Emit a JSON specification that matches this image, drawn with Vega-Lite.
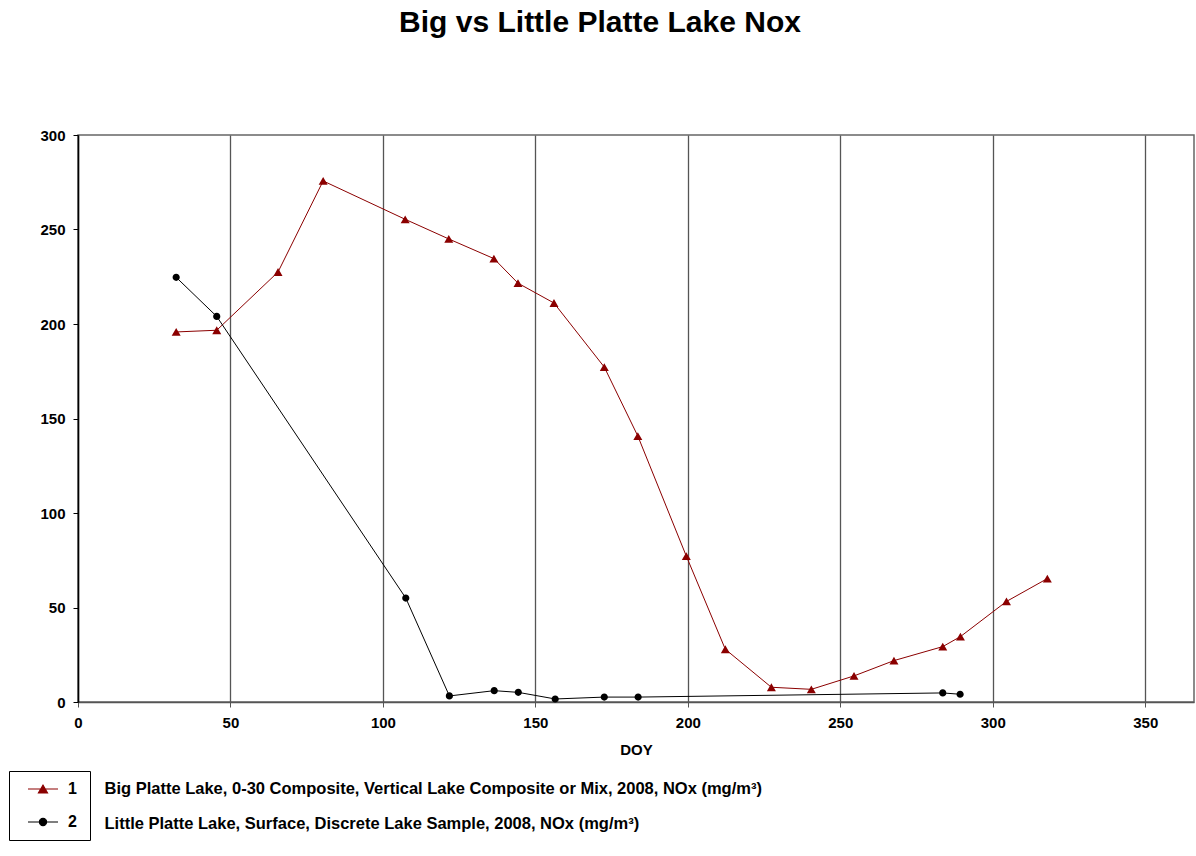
{
  "$schema": "https://vega.github.io/schema/vega-lite/v6.json",
  "width": 1116,
  "height": 567,
  "autosize": {"type": "none"},
  "padding": {"left": 78, "top": 135, "right": 2, "bottom": 154},
  "background": "white",
  "config": {
    "font": "Liberation Sans",
    "view": {"stroke": "#666666", "strokeWidth": 1.5}
  },
  "title": {
    "text": "Big vs Little Platte Lake Nox",
    "font": "Liberation Sans",
    "fontSize": 30,
    "fontWeight": "bold",
    "color": "black",
    "anchor": "middle",
    "dx": -36,
    "offset": 90
  },
  "data": {
    "values": [
      {"series": "1", "lake": "Big Platte Lake, 0-30 Composite, Vertical Lake Composite or Mix, 2008, NOx (mg/m³)", "doy": 32.2, "nox": 195.8},
      {"series": "1", "lake": "Big Platte Lake, 0-30 Composite, Vertical Lake Composite or Mix, 2008, NOx (mg/m³)", "doy": 45.5, "nox": 196.7},
      {"series": "1", "lake": "Big Platte Lake, 0-30 Composite, Vertical Lake Composite or Mix, 2008, NOx (mg/m³)", "doy": 65.6, "nox": 227.5},
      {"series": "1", "lake": "Big Platte Lake, 0-30 Composite, Vertical Lake Composite or Mix, 2008, NOx (mg/m³)", "doy": 80.4, "nox": 275.7},
      {"series": "1", "lake": "Big Platte Lake, 0-30 Composite, Vertical Lake Composite or Mix, 2008, NOx (mg/m³)", "doy": 107.3, "nox": 255.4},
      {"series": "1", "lake": "Big Platte Lake, 0-30 Composite, Vertical Lake Composite or Mix, 2008, NOx (mg/m³)", "doy": 121.6, "nox": 245.0},
      {"series": "1", "lake": "Big Platte Lake, 0-30 Composite, Vertical Lake Composite or Mix, 2008, NOx (mg/m³)", "doy": 136.4, "nox": 234.6},
      {"series": "1", "lake": "Big Platte Lake, 0-30 Composite, Vertical Lake Composite or Mix, 2008, NOx (mg/m³)", "doy": 144.3, "nox": 221.6},
      {"series": "1", "lake": "Big Platte Lake, 0-30 Composite, Vertical Lake Composite or Mix, 2008, NOx (mg/m³)", "doy": 156.1, "nox": 211.1},
      {"series": "1", "lake": "Big Platte Lake, 0-30 Composite, Vertical Lake Composite or Mix, 2008, NOx (mg/m³)", "doy": 172.6, "nox": 177.2},
      {"series": "1", "lake": "Big Platte Lake, 0-30 Composite, Vertical Lake Composite or Mix, 2008, NOx (mg/m³)", "doy": 183.6, "nox": 140.7},
      {"series": "1", "lake": "Big Platte Lake, 0-30 Composite, Vertical Lake Composite or Mix, 2008, NOx (mg/m³)", "doy": 199.5, "nox": 77.2},
      {"series": "1", "lake": "Big Platte Lake, 0-30 Composite, Vertical Lake Composite or Mix, 2008, NOx (mg/m³)", "doy": 212.3, "nox": 27.9},
      {"series": "1", "lake": "Big Platte Lake, 0-30 Composite, Vertical Lake Composite or Mix, 2008, NOx (mg/m³)", "doy": 227.4, "nox": 7.8},
      {"series": "1", "lake": "Big Platte Lake, 0-30 Composite, Vertical Lake Composite or Mix, 2008, NOx (mg/m³)", "doy": 240.5, "nox": 6.7},
      {"series": "1", "lake": "Big Platte Lake, 0-30 Composite, Vertical Lake Composite or Mix, 2008, NOx (mg/m³)", "doy": 254.5, "nox": 13.8},
      {"series": "1", "lake": "Big Platte Lake, 0-30 Composite, Vertical Lake Composite or Mix, 2008, NOx (mg/m³)", "doy": 267.6, "nox": 21.9},
      {"series": "1", "lake": "Big Platte Lake, 0-30 Composite, Vertical Lake Composite or Mix, 2008, NOx (mg/m³)", "doy": 283.6, "nox": 29.3},
      {"series": "1", "lake": "Big Platte Lake, 0-30 Composite, Vertical Lake Composite or Mix, 2008, NOx (mg/m³)", "doy": 289.4, "nox": 34.6},
      {"series": "1", "lake": "Big Platte Lake, 0-30 Composite, Vertical Lake Composite or Mix, 2008, NOx (mg/m³)", "doy": 304.5, "nox": 53.2},
      {"series": "1", "lake": "Big Platte Lake, 0-30 Composite, Vertical Lake Composite or Mix, 2008, NOx (mg/m³)", "doy": 317.9, "nox": 65.3},
      {"series": "2", "lake": "Little Platte Lake, Surface, Discrete Lake Sample, 2008, NOx (mg/m³)", "doy": 32.2, "nox": 224.7},
      {"series": "2", "lake": "Little Platte Lake, Surface, Discrete Lake Sample, 2008, NOx (mg/m³)", "doy": 45.5, "nox": 204.0},
      {"series": "2", "lake": "Little Platte Lake, Surface, Discrete Lake Sample, 2008, NOx (mg/m³)", "doy": 107.5, "nox": 55.0},
      {"series": "2", "lake": "Little Platte Lake, Surface, Discrete Lake Sample, 2008, NOx (mg/m³)", "doy": 121.8, "nox": 3.2},
      {"series": "2", "lake": "Little Platte Lake, Surface, Discrete Lake Sample, 2008, NOx (mg/m³)", "doy": 136.5, "nox": 6.0},
      {"series": "2", "lake": "Little Platte Lake, Surface, Discrete Lake Sample, 2008, NOx (mg/m³)", "doy": 144.4, "nox": 5.1},
      {"series": "2", "lake": "Little Platte Lake, Surface, Discrete Lake Sample, 2008, NOx (mg/m³)", "doy": 156.5, "nox": 1.6},
      {"series": "2", "lake": "Little Platte Lake, Surface, Discrete Lake Sample, 2008, NOx (mg/m³)", "doy": 172.6, "nox": 2.6},
      {"series": "2", "lake": "Little Platte Lake, Surface, Discrete Lake Sample, 2008, NOx (mg/m³)", "doy": 183.7, "nox": 2.6},
      {"series": "2", "lake": "Little Platte Lake, Surface, Discrete Lake Sample, 2008, NOx (mg/m³)", "doy": 283.6, "nox": 4.8},
      {"series": "2", "lake": "Little Platte Lake, Surface, Discrete Lake Sample, 2008, NOx (mg/m³)", "doy": 289.3, "nox": 4.1}
    ]
  },
  "encoding": {
    "x": {
      "field": "doy",
      "type": "quantitative",
      "scale": {"domain": [0, 366], "nice": false, "zero": false},
      "axis": {
        "values": [0, 50, 100, 150, 200, 250, 300, 350],
        "title": "DOY",
        "titleFont": "Liberation Sans",
        "titleFontSize": 15,
        "titleFontWeight": "bold",
        "titleColor": "black",
        "titlePadding": 12,
        "grid": true,
        "gridColor": "#555555",
        "gridWidth": 1.3,
        "domainColor": "#555555",
        "domainWidth": 1.5,
        "tickColor": "#555555",
        "tickSize": 5,
        "labelFont": "Liberation Sans",
        "labelFontSize": 15,
        "labelFontWeight": "bold",
        "labelColor": "black",
        "labelPadding": 8,
        "labelFlush": false
      }
    },
    "y": {
      "field": "nox",
      "type": "quantitative",
      "scale": {"domain": [0, 300], "nice": false},
      "axis": {
        "values": [0, 50, 100, 150, 200, 250, 300],
        "title": null,
        "grid": false,
        "domainColor": "black",
        "domainWidth": 1.5,
        "tickColor": "black",
        "tickSize": 5,
        "labelFont": "Liberation Sans",
        "labelFontSize": 15,
        "labelFontWeight": "bold",
        "labelColor": "black",
        "labelPadding": 8
      }
    }
  },
  "layer": [
    {
      "mark": {"type": "line", "strokeWidth": 1},
      "encoding": {
        "color": {
          "field": "series",
          "type": "nominal",
          "scale": {"domain": ["1", "2"], "range": ["#8B0000", "#000000"]},
          "legend": {
            "orient": "none",
            "legendX": -69,
            "legendY": 636,
            "title": "MMMMMMMMMMMM",
            "titleOrient": "bottom",
            "titleAnchor": "start",
            "titleFont": "Liberation Sans",
            "titleFontWeight": "normal",
            "titleFontSize": 7.7,
            "titleColor": "rgba(0,0,0,0)",
            "titlePadding": 0,
            "strokeColor": "black",
            "padding": 2,
            "symbolSize": 900,
            "symbolOffset": 16,
            "symbolStrokeWidth": 1.2,
            "labelOffset": 9,
            "labelFont": "Liberation Sans",
            "labelFontSize": 16,
            "labelFontWeight": "bold",
            "labelColor": "black",
            "rowPadding": 9,
            "encode": {"symbols": {"update": {"stroke": {"signal": "scale('color', datum.value)"}, "strokeWidth": {"value": 1.2}}}}
          }
        }
      }
    },
    {
      "mark": {"type": "point", "filled": true, "strokeWidth": 0, "size": 900},
      "encoding": {
        "color": {
          "field": "series",
          "type": "nominal",
          "scale": {"domain": ["1", "2"], "range": ["#8B0000", "#000000"]},
          "legend": {
            "orient": "none",
            "legendX": -69,
            "legendY": 636,
            "title": "MMMMMMMMMMMM",
            "titleOrient": "bottom",
            "titleAnchor": "start",
            "titleFont": "Liberation Sans",
            "titleFontWeight": "normal",
            "titleFontSize": 7.7,
            "titleColor": "rgba(0,0,0,0)",
            "titlePadding": 0,
            "strokeColor": "black",
            "padding": 2,
            "symbolSize": 900,
            "symbolOffset": 16,
            "symbolStrokeWidth": 1.2,
            "labelOffset": 9,
            "labelFont": "Liberation Sans",
            "labelFontSize": 16,
            "labelFontWeight": "bold",
            "labelColor": "black",
            "rowPadding": 9,
            "encode": {"symbols": {"update": {"stroke": {"signal": "scale('color', datum.value)"}, "strokeWidth": {"value": 1.2}}}}
          }
        },
        "shape": {
          "field": "series",
          "type": "nominal",
          "scale": {
            "domain": ["1", "2"],
            "range": [
              "M-1,0H1M-0.3,0.26L0,-0.26L0.3,0.26Z",
              "M-1,0H1M0.24,0A0.24,0.24,0,1,1,-0.24,0A0.24,0.24,0,1,1,0.24,0Z"
            ]
          },
          "legend": {
            "orient": "none",
            "legendX": -69,
            "legendY": 636,
            "title": "MMMMMMMMMMMM",
            "titleOrient": "bottom",
            "titleAnchor": "start",
            "titleFont": "Liberation Sans",
            "titleFontWeight": "normal",
            "titleFontSize": 7.7,
            "titleColor": "rgba(0,0,0,0)",
            "titlePadding": 0,
            "strokeColor": "black",
            "padding": 2,
            "symbolSize": 900,
            "symbolOffset": 16,
            "symbolStrokeWidth": 1.2,
            "labelOffset": 9,
            "labelFont": "Liberation Sans",
            "labelFontSize": 16,
            "labelFontWeight": "bold",
            "labelColor": "black",
            "rowPadding": 9,
            "encode": {"symbols": {"update": {"stroke": {"signal": "scale('color', datum.value)"}, "strokeWidth": {"value": 1.2}}}}
          }
        },
        "opacity": {
          "field": "lake",
          "type": "ordinal",
          "scale": {"range": [1, 1]},
          "legend": {
            "orient": "none",
            "legendX": 10,
            "legendY": 646,
            "title": null,
            "padding": 0,
            "symbolSize": 0,
            "symbolOpacity": 0,
            "symbolFillColor": "transparent",
            "symbolStrokeColor": "transparent",
            "symbolStrokeWidth": 0,
            "labelOffset": 0,
            "labelFont": "Liberation Sans",
            "labelFontSize": 16.5,
            "labelFontWeight": "bold",
            "labelColor": "black",
            "labelLimit": 2000,
            "rowPadding": 17.5,
            "encode": {"symbols": {"update": {"opacity": {"value": 0}, "fill": {"value": "transparent"}, "stroke": {"value": "transparent"}}}}
          }
        }
      }
    }
  ]
}
